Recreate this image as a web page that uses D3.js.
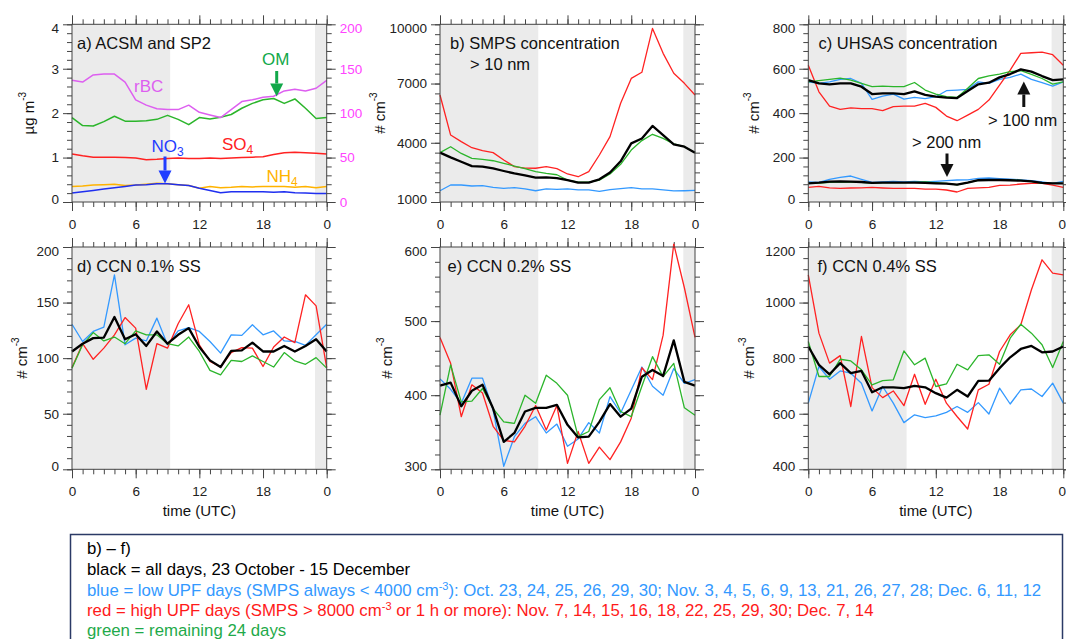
<!DOCTYPE html>
<html><head><meta charset="utf-8">
<script src="https://cdn.jsdelivr.net/npm/d3@7"></script>
<style>
body{margin:0;background:#fff;}
svg{display:block;font-family:"Liberation Sans",Arial,Helvetica,sans-serif;}
</style></head>
<body><svg id="chart" width="1066" height="639"></svg>
<script>
// ---------------- data ----------------
const hours = d3.range(0, 25);
const xTickValues = [0, 6, 12, 18, 24];
const xTickLabels = ["0", "6", "12", "18", "0"];
const nightSpans = [[0, 9.25], [22.9, 24]];

// a) ACSM and SP2 (µg m-3; rBC on right axis)
const rBC = [137, 135, 143, 144, 144, 135, 115, 109, 105, 104, 104, 109, 101, 98, 95, 104, 113, 115, 118, 119, 125, 127, 125, 128, 137];
const OM  = [1.90, 1.72, 1.71, 1.81, 1.93, 1.82, 1.82, 1.83, 1.86, 1.95, 1.86, 1.74, 1.90, 1.87, 1.91, 1.97, 2.11, 2.22, 2.30, 2.33, 2.22, 2.32, 2.11, 1.88, 1.90];
const SO4 = [1.08, 1.04, 1.01, 1.01, 1.01, 1.00, 0.99, 0.95, 0.96, 0.98, 0.99, 0.98, 0.98, 0.99, 0.98, 0.99, 1.00, 1.01, 1.02, 1.07, 1.11, 1.12, 1.11, 1.10, 1.08];
const NH4 = [0.35, 0.36, 0.38, 0.39, 0.40, 0.37, 0.38, 0.40, 0.42, 0.41, 0.39, 0.37, 0.31, 0.35, 0.32, 0.33, 0.35, 0.34, 0.35, 0.35, 0.35, 0.33, 0.35, 0.32, 0.35];
const NO3 = [0.20, 0.23, 0.26, 0.29, 0.32, 0.35, 0.38, 0.39, 0.41, 0.41, 0.39, 0.37, 0.31, 0.26, 0.21, 0.23, 0.23, 0.23, 0.23, 0.22, 0.23, 0.21, 0.20, 0.19, 0.19];

// b) SMPS > 10 nm
const smpsAll  = [3500, 3260, 3040, 2820, 2790, 2700, 2570, 2450, 2350, 2230, 2250, 2210, 2110, 1980, 1980, 2150, 2490, 3060, 3970, 4220, 4850, 4390, 3920, 3800, 3500];
const smpsLow  = [1570, 1860, 1860, 1810, 1830, 1740, 1690, 1730, 1660, 1570, 1660, 1640, 1660, 1610, 1610, 1540, 1630, 1680, 1730, 1660, 1660, 1610, 1560, 1570, 1590];
const smpsHigh = [6420, 4390, 4060, 3750, 3600, 3500, 3130, 2790, 2720, 2710, 2790, 2690, 2420, 2280, 2540, 3380, 4310, 6000, 7260, 7570, 9790, 8530, 7520, 7010, 6420];
const smpsRest = [3500, 3800, 3460, 3210, 3160, 3090, 2960, 2820, 2690, 2540, 2450, 2380, 2110, 2000, 2010, 2110, 2420, 2910, 3630, 4110, 4430, 4220, 3940, 3800, 3500];

// c) UHSAS > 100 nm and > 200 nm
const gt100All  = [549, 534, 530, 534, 534, 519, 486, 489, 489, 486, 498, 482, 474, 470, 468, 500, 530, 537, 561, 576, 597, 587, 567, 549, 552];
const gt100Low  = [541, 534, 541, 552, 556, 534, 462, 477, 486, 463, 471, 465, 474, 501, 504, 507, 541, 534, 552, 561, 576, 552, 537, 522, 541];
const gt100High = [616, 496, 432, 417, 424, 420, 420, 411, 429, 432, 432, 444, 426, 387, 366, 391, 417, 459, 526, 594, 669, 672, 675, 663, 616];
const gt100Rest = [541, 546, 552, 558, 549, 534, 519, 522, 519, 519, 538, 504, 486, 474, 471, 512, 556, 568, 576, 587, 591, 575, 556, 531, 541];
const gt200All  = [84, 87, 92, 93, 92, 90, 86, 87, 87, 87, 87, 86, 84, 83, 78, 87, 98, 99, 99, 98, 96, 93, 86, 84, 84];
const gt200Low  = [91, 88, 102, 111, 117, 102, 88, 91, 93, 90, 93, 91, 93, 96, 99, 100, 106, 108, 105, 103, 100, 96, 90, 84, 93];
const gt200High = [66, 70, 64, 61, 63, 64, 66, 63, 61, 61, 61, 58, 58, 54, 45, 61, 64, 66, 75, 76, 81, 84, 84, 76, 66];
const gt200Rest = [84, 85, 88, 91, 90, 88, 85, 87, 87, 87, 88, 90, 87, 84, 77, 87, 97, 97, 99, 99, 97, 93, 84, 84, 84];

// d) CCN 0.1% SS
const ccn01All  = [106, 113, 118, 118.5, 137, 117, 121.5, 111, 124, 113, 121, 127, 110, 98, 92, 106.5, 107, 114, 106, 106, 111, 106, 111, 117, 106];
const ccn01Low  = [130.5, 115, 124, 128, 175, 112, 118, 115.5, 136, 112, 124.5, 127.5, 124, 115, 104.5, 121, 120.5, 130, 121, 124.5, 115.5, 115, 111.5, 121, 130.5];
const ccn01High = [91.5, 113, 99, 109, 121, 136.5, 127, 72, 113, 109, 131, 148, 112, 97, 92, 105, 109.5, 109, 92.5, 110, 119, 114, 157, 147, 91.5];
const ccn01Rest = [91, 112, 123, 115.5, 119, 113, 124.5, 121, 121, 113, 111, 119, 106, 89, 85, 98, 97, 102, 97, 92, 105, 97.5, 94.5, 100.5, 91];

// e) CCN 0.2% SS
const ccn02All  = [413, 417, 385, 406, 414, 382, 337, 349, 378, 383, 383, 387, 360, 343, 344, 364, 388, 371, 382, 425, 434, 426, 474, 418, 413];
const ccn02Low  = [422, 408, 389, 423, 423, 380, 304, 344, 362, 371, 349, 361, 331, 341, 363, 349, 398, 376, 407, 438, 412, 400, 436, 416, 421];
const ccn02High = [478, 443, 371, 414, 403, 358, 339, 337, 358, 386, 353, 386, 308, 351, 308, 330, 313, 337, 369, 437, 421, 481, 604, 545, 478];
const ccn02Rest = [373, 441, 391, 392, 409, 382, 364, 362, 400, 389, 427, 416, 400, 344, 351, 394, 410, 378, 371, 412, 452, 425, 443, 383, 373];

// f) CCN 0.4% SS
const ccn04All  = [842, 776, 742, 782, 746, 754, 677, 695, 695, 692, 700, 695, 674, 658, 686, 662, 718, 719, 764, 803, 833, 844, 821, 824, 842];
const ccn04Low  = [638, 770, 724, 754, 746, 710, 610, 698, 638, 568, 596, 586, 592, 605, 626, 605, 640, 599, 692, 635, 686, 689, 662, 710, 638];
const ccn04High = [1100, 890, 782, 809, 626, 878, 694, 658, 682, 629, 742, 634, 724, 638, 590, 545, 686, 706, 824, 884, 920, 1046, 1154, 1106, 1100];
const ccn04Rest = [860, 734, 734, 796, 790, 758, 704, 719, 722, 826, 776, 800, 698, 707, 778, 758, 809, 812, 778, 872, 922, 890, 848, 766, 860];

const legendLines = [
  {color: "#000000", parts: [["b) – f)"]]},
  {color: "#000000", parts: [["black = all days, 23 October - 15 December"]]},
  {color: "#3399ff", parts: [["blue = low UPF days (SMPS always < 4000 cm"], ["-3", "sup"], ["): Oct. 23, 24, 25, 26, 29, 30; Nov. 3, 4, 5, 6, 9, 13, 21, 26, 27, 28; Dec. 6, 11, 12"]]},
  {color: "#ff1a1a", parts: [["red = high UPF days (SMPS > 8000 cm"], ["-3", "sup"], [" or 1 h or more): Nov. 7, 14, 15, 16, 18, 22, 25, 29, 30; Dec. 7, 14"]]},
  {color: "#1faa4a", parts: [["green = remaining 24 days"]]}
];

// ---------------- styling ----------------
const C = {black: "#000", blue: "#3399ff", red: "#ff2222", green: "#2bb52b",
           rBC: "#dd5ff0", OM: "#2bb52b", SO4: "#ff2222", NH4: "#ffb300", NO3: "#1f2ff0"};
const shade = "#ebebeb", axisColor = "#444";
const W = 1066;

const rowTop = {y0: 24.3, y1: 202}, rowBot = {y0: 247, y1: 469.3};
const cols = [{x0: 72, x1: 326.7}, {x0: 440, x1: 695}, {x0: 808.3, x1: 1063.3}];

const svg = d3.select("#chart");

function groupSeries(all, low, high, rest) {
  return [
    {v: low, c: C.blue, w: 1.3},
    {v: high, c: C.red, w: 1.3},
    {v: rest, c: C.green, w: 1.3},
    {v: all, c: C.black, w: 2.3}
  ];
}

const panels = [
  {col: 0, row: rowTop, dom: [0, 4], major: [0, 1, 2, 3, 4], minor: 0.2, title: "a) ACSM and SP2",
   ytitle: ["µg m", "-3"], ytx: 28,
   series: [{v: NH4, c: C.NH4, w: 1.5}, {v: NO3, c: C.NO3, w: 1.5}, {v: SO4, c: C.SO4, w: 1.5},
            {v: OM, c: C.OM, w: 1.5}, {v: rBC, c: C.rBC, w: 1.5, right: true}],
   right: {dom: [0, 200], major: [0, 50, 100, 150, 200], color: "#ff44ff"}},
  {col: 1, row: rowTop, dom: [1000, 10000], major: [1000, 4000, 7000, 10000], minor: 500,
   title: "b) SMPS concentration", sub: "> 10 nm", ytitle: ["# cm", "-3"], ytx: 378.5,
   series: groupSeries(smpsAll, smpsLow, smpsHigh, smpsRest)},
  {col: 2, row: rowTop, dom: [0, 800], major: [0, 200, 400, 600, 800], minor: 40,
   title: "c) UHSAS concentration", ytitle: ["# cm", "-3"], ytx: 753,
   series: groupSeries(gt200All, gt200Low, gt200High, gt200Rest).concat(groupSeries(gt100All, gt100Low, gt100High, gt100Rest))},
  {col: 0, row: rowBot, dom: [0, 200], major: [0, 50, 100, 150, 200], minor: 10,
   title: "d) CCN 0.1% SS", ytitle: ["# cm", "-3"], ytx: 21, xtitle: true,
   series: groupSeries(ccn01All, ccn01Low, ccn01High, ccn01Rest)},
  {col: 1, row: rowBot, dom: [300, 600], major: [300, 400, 500, 600], minor: 20,
   title: "e) CCN 0.2% SS", ytitle: ["# cm", "-3"], ytx: 386, xtitle: true,
   series: groupSeries(ccn02All, ccn02Low, ccn02High, ccn02Rest)},
  {col: 2, row: rowBot, dom: [400, 1200], major: [400, 600, 800, 1000, 1200], minor: 40,
   title: "f) CCN 0.4% SS", ytitle: ["# cm", "-3"], ytx: 747.5, xtitle: true,
   series: groupSeries(ccn04All, ccn04Low, ccn04High, ccn04Rest)}
];

function styleAxis(a, labelSize, labelColor) {
  a.attr("font-family", null).attr("font-size", null);
  a.select(".domain").remove();
  a.selectAll(".tick line").attr("stroke", axisColor).attr("stroke-width", 1);
  a.selectAll(".tick text").attr("font-size", labelSize || 13.5).attr("fill", labelColor || "#222");
  return a;
}

panels.forEach(p => {
  const X0 = cols[p.col].x0, X1 = cols[p.col].x1, Y0 = p.row.y0, Y1 = p.row.y1;
  const g = svg.append("g");
  const x = d3.scaleLinear().domain([0, 24]).range([X0, X1]);
  const y = d3.scaleLinear().domain(p.dom).range([Y1, Y0]);
  const yR = p.right ? d3.scaleLinear().domain(p.right.dom).range([Y1, Y0]) : null;

  // night shading
  nightSpans.forEach(([a, b]) => g.append("rect")
    .attr("x", x(a)).attr("y", Y0).attr("width", x(b) - x(a)).attr("height", Y1 - Y0).attr("fill", shade));

  // x axes (bottom labelled, top mirrored)
  const xb = styleAxis(g.append("g").attr("transform", `translate(0,${Y1})`)
    .call(d3.axisBottom(x).tickValues(xTickValues).tickSize(9).tickPadding(8).tickFormat((d, i) => xTickLabels[i])));
  // keep the last label inside the page edge
  xb.selectAll(".tick text").each(function(d) {
    if (x(d) + 5 > W) d3.select(this).attr("text-anchor", "end").attr("x", W - 0.5 - x(d));
  });
  styleAxis(g.append("g").attr("transform", `translate(0,${Y1})`)
    .call(d3.axisBottom(x).tickValues(hours).tickSize(5).tickFormat("")));
  styleAxis(g.append("g").attr("transform", `translate(0,${Y0})`)
    .call(d3.axisTop(x).tickValues(xTickValues).tickSize(9).tickFormat("")));
  styleAxis(g.append("g").attr("transform", `translate(0,${Y0})`)
    .call(d3.axisTop(x).tickValues(hours).tickSize(5).tickFormat("")));

  // y axes
  const minors = d3.range(p.dom[0], p.dom[1] + p.minor / 2, p.minor);
  const yl = styleAxis(g.append("g").attr("transform", `translate(${X0},0)`)
    .call(d3.axisLeft(y).tickValues(p.major).tickSize(9).tickPadding(4).tickFormat(d3.format("d"))));
  yl.selectAll(".tick text").attr("dy", d => d === p.dom[1] ? "0.62em" : d === p.dom[0] ? "0.12em" : "0.32em");
  styleAxis(g.append("g").attr("transform", `translate(${X0},0)`)
    .call(d3.axisLeft(y).tickValues(minors).tickSize(5).tickFormat("")));
  if (p.right) {
    const yr = styleAxis(g.append("g").attr("transform", `translate(${X1},0)`)
      .call(d3.axisRight(yR).tickValues(p.right.major).tickSize(9).tickPadding(4)), 13.5, p.right.color);
    yr.selectAll(".tick text").attr("dy", d => d === p.right.dom[1] ? "0.6em" : "0.32em");
    styleAxis(g.append("g").attr("transform", `translate(${X1},0)`)
      .call(d3.axisRight(yR).tickValues(d3.range(0, 201, 10)).tickSize(5).tickFormat("")));
  } else {
    styleAxis(g.append("g").attr("transform", `translate(${X1},0)`)
      .call(d3.axisRight(y).tickValues(p.major).tickSize(9).tickFormat("")));
    styleAxis(g.append("g").attr("transform", `translate(${X1},0)`)
      .call(d3.axisRight(y).tickValues(minors).tickSize(5).tickFormat("")));
  }

  // series
  p.series.forEach(s => {
    const sc = s.right ? yR : y;
    g.append("path").datum(s.v)
      .attr("d", d3.line().x((d, i) => x(hours[i])).y(d => sc(d)))
      .attr("fill", "none").attr("stroke", s.c).attr("stroke-width", s.w)
      .attr("stroke-linejoin", "round");
  });

  // frame
  g.append("rect").attr("x", X0).attr("y", Y0).attr("width", X1 - X0).attr("height", Y1 - Y0)
    .attr("fill", "none").attr("stroke", axisColor).attr("stroke-width", 1);

  // titles
  const titleX = {"a": 77, "b": 450, "c": 818.5, "d": 77, "e": 447.5, "f": 817.5}[p.title[0]];
  g.append("text").attr("x", titleX).attr("y", Y0 + 24.5).attr("font-size", 16.5).attr("fill", "#111").text(p.title);
  if (p.sub) g.append("text").attr("x", X0 + 30).attr("y", Y0 + 45.5).attr("font-size", 16.5).attr("fill", "#111").text(p.sub);

  // y title
  const yt = g.append("text").attr("transform", `translate(${p.ytx},${(Y0 + Y1) / 2}) rotate(-90)`)
    .attr("text-anchor", "middle").attr("dominant-baseline", "central").attr("font-size", 15).attr("fill", "#111");
  yt.append("tspan").text(p.ytitle[0]);
  yt.append("tspan").attr("font-size", 10).attr("dy", -6).text(p.ytitle[1]);

  if (p.xtitle) {
    g.append("text").attr("x", (X0 + X1) / 2).attr("y", Y1 + 47).attr("text-anchor", "middle")
      .attr("font-size", 15).attr("fill", "#111").text("time (UTC)");
  }
});

// ---------------- annotations ----------------
function arrow(xc, yTail, yTip, color) {
  const dir = yTip > yTail ? 1 : -1, headLen = 13, headHalf = 6.5;
  const base = yTip - dir * headLen;
  svg.append("line").attr("x1", xc).attr("x2", xc).attr("y1", yTail).attr("y2", base)
    .attr("stroke", color).attr("stroke-width", 3);
  svg.append("path").attr("d", `M${xc - headHalf},${base}L${xc + headHalf},${base}L${xc},${yTip}Z`).attr("fill", color);
}
function label(x, y, main, sub, color) {
  const t = svg.append("text").attr("x", x).attr("y", y).attr("font-size", 17).attr("fill", color);
  t.append("tspan").text(main);
  if (sub) t.append("tspan").attr("font-size", 12).attr("dy", 4).text(sub);
}
label(134, 91.5, "rBC", null, C.rBC);
label(262, 65, "OM", null, "#12a84a");
arrow(276.7, 71, 96.5, "#12a84a");
label(151.5, 151.5, "NO", "3", "#1f3cff");
arrow(165, 156.5, 183.5, "#1f3cff");
label(222, 150, "SO", "4", "#ff2222");
label(266.5, 181.5, "NH", "4", "#ffb300");

svg.append("text").attr("x", 988).attr("y", 126).attr("font-size", 16.5).attr("fill", "#111").text("> 100 nm");
arrow(1023.8, 107, 81.5, "#111");
svg.append("text").attr("x", 912).attr("y", 148).attr("font-size", 16.5).attr("fill", "#111").text("> 200 nm");
arrow(947, 153.5, 177, "#111");

// ---------------- legend box ----------------
svg.append("rect").attr("x", 70.5).attr("y", 534.5).attr("width", 992).attr("height", 120)
  .attr("fill", "#fff").attr("stroke", "#2b3a66").attr("stroke-width", 1.5);
const baselines = [554, 575, 595.5, 616, 635.5];
legendLines.forEach((ln, i) => {
  const t = svg.append("text").attr("x", 87).attr("y", baselines[i]).attr("font-size", 16.8).attr("fill", ln.color);
  ln.parts.forEach(pt => {
    if (pt[1] === "sup") {
      t.append("tspan").attr("font-size", 11).attr("dy", -6).text(pt[0]);
    } else {
      const ts = t.append("tspan").text(pt[0]);
      if (t.selectAll("tspan").size() > 1) ts.attr("dy", 6);
    }
  });
});
</script>
</body></html>
